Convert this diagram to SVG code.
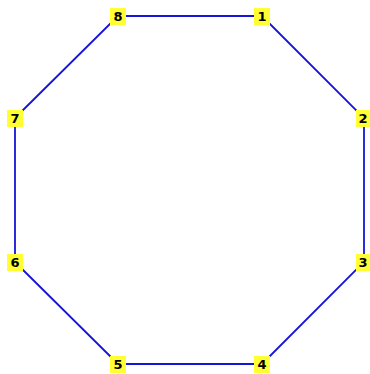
<svg xmlns="http://www.w3.org/2000/svg" width="370" height="374" viewBox="0 0 370 374">
<style>
.edge{stroke:#1515d8;stroke-width:1.8;fill:none}
.box{fill:#ffff33}
.lbl{font-family:"DejaVu Sans",Verdana,sans-serif;font-weight:bold;font-size:13px;fill:#000;text-anchor:middle;dominant-baseline:central}
</style>
<rect width="370" height="374" fill="#fff"/>
<g id="connectors">
<polygon class="edge" points="262,16 364,118 364,262 262,364 118,364 15,262 15,118 118,16"/>
</g>
<g id="n1"><rect class="box" x="254" y="8" width="16" height="17"/><text class="lbl" x="262" y="16.5">1</text></g>
<g id="n2"><rect class="box" x="356" y="110" width="16" height="17"/><text class="lbl" x="363" y="118.5">2</text></g>
<g id="n3"><rect class="box" x="356" y="254" width="16" height="17"/><text class="lbl" x="363" y="262.5">3</text></g>
<g id="n4"><rect class="box" x="254" y="356" width="16" height="17"/><text class="lbl" x="262" y="364.5">4</text></g>
<g id="n5"><rect class="box" x="110" y="356" width="16" height="17"/><text class="lbl" x="118" y="364.5">5</text></g>
<g id="n6"><rect class="box" x="7" y="254" width="16" height="17"/><text class="lbl" x="15" y="262.5">6</text></g>
<g id="n7"><rect class="box" x="7" y="110" width="16" height="17"/><text class="lbl" x="15" y="118.5">7</text></g>
<g id="n8"><rect class="box" x="110" y="8" width="16" height="17"/><text class="lbl" x="118" y="16.5">8</text></g>
</svg>
